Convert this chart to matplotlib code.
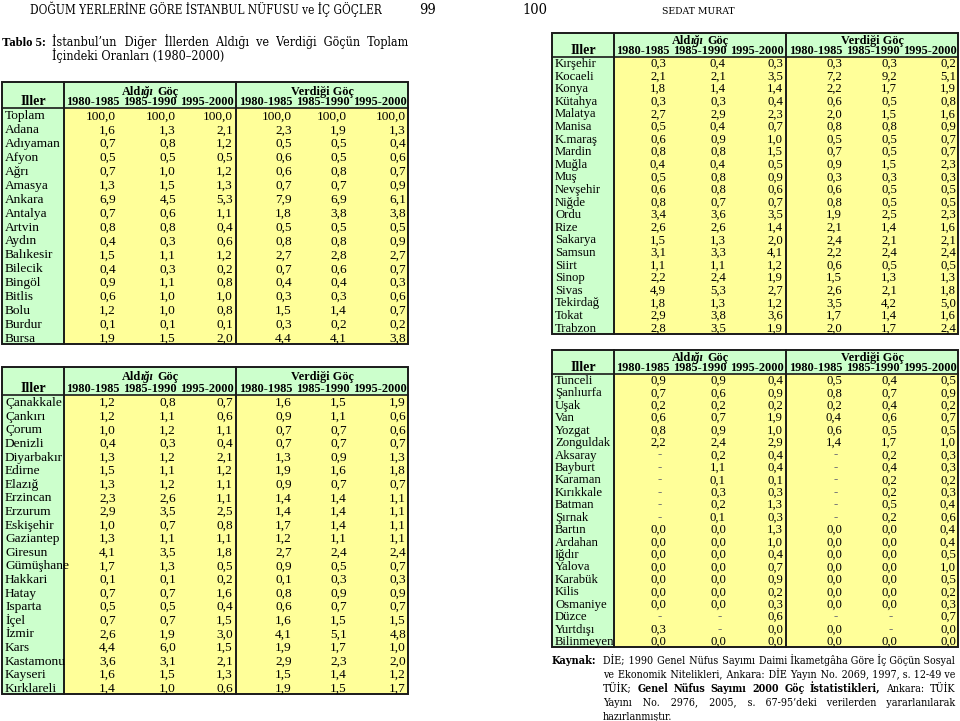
import matplotlib
matplotlib.use('Agg')
import matplotlib.pyplot as plt
from matplotlib import font_manager, ft2font
from matplotlib.patches import Rectangle

SERIF = 'Liberation Serif'
BOOK = 'DejaVu Serif'
GREEN = '#ccffcc'
YELLOW = '#ffff99'
LINE = '#1a1a1a'

periods = ['1980-1985', '1985-1990', '1995-2000']
groups = ['Aldığı Göç', 'Verdiği Göç']

# values: Aldığı Göç (3 periods), Verdiği Göç (3 periods); None = '-'
names_1 = ['Toplam', 'Adana', 'Adıyaman', 'Afyon', 'Ağrı', 'Amasya', 'Ankara', 'Antalya',
           'Artvin', 'Aydın', 'Balıkesir', 'Bilecik', 'Bingöl', 'Bitlis', 'Bolu', 'Burdur', 'Bursa']
values_1 = [
    [100.0, 100.0, 100.0, 100.0, 100.0, 100.0],
    [1.6, 1.3, 2.1, 2.3, 1.9, 1.3],
    [0.7, 0.8, 1.2, 0.5, 0.5, 0.4],
    [0.5, 0.5, 0.5, 0.6, 0.5, 0.6],
    [0.7, 1.0, 1.2, 0.6, 0.8, 0.7],
    [1.3, 1.5, 1.3, 0.7, 0.7, 0.9],
    [6.9, 4.5, 5.3, 7.9, 6.9, 6.1],
    [0.7, 0.6, 1.1, 1.8, 3.8, 3.8],
    [0.8, 0.8, 0.4, 0.5, 0.5, 0.5],
    [0.4, 0.3, 0.6, 0.8, 0.8, 0.9],
    [1.5, 1.1, 1.2, 2.7, 2.8, 2.7],
    [0.4, 0.3, 0.2, 0.7, 0.6, 0.7],
    [0.9, 1.1, 0.8, 0.4, 0.4, 0.3],
    [0.6, 1.0, 1.0, 0.3, 0.3, 0.6],
    [1.2, 1.0, 0.8, 1.5, 1.4, 0.7],
    [0.1, 0.1, 0.1, 0.3, 0.2, 0.2],
    [1.9, 1.5, 2.0, 4.4, 4.1, 3.8],
]

names_2 = ['Çanakkale', 'Çankırı', 'Çorum', 'Denizli', 'Diyarbakır', 'Edirne', 'Elazığ',
           'Erzincan', 'Erzurum', 'Eskişehir', 'Gaziantep', 'Giresun', 'Gümüşhane', 'Hakkari',
           'Hatay', 'Isparta', 'İçel', 'İzmir', 'Kars', 'Kastamonu', 'Kayseri', 'Kırklareli']
values_2 = [
    [1.2, 0.8, 0.7, 1.6, 1.5, 1.9],
    [1.2, 1.1, 0.6, 0.9, 1.1, 0.6],
    [1.0, 1.2, 1.1, 0.7, 0.7, 0.6],
    [0.4, 0.3, 0.4, 0.7, 0.7, 0.7],
    [1.3, 1.2, 2.1, 1.3, 0.9, 1.3],
    [1.5, 1.1, 1.2, 1.9, 1.6, 1.8],
    [1.3, 1.2, 1.1, 0.9, 0.7, 0.7],
    [2.3, 2.6, 1.1, 1.4, 1.4, 1.1],
    [2.9, 3.5, 2.5, 1.4, 1.4, 1.1],
    [1.0, 0.7, 0.8, 1.7, 1.4, 1.1],
    [1.3, 1.1, 1.1, 1.2, 1.1, 1.1],
    [4.1, 3.5, 1.8, 2.7, 2.4, 2.4],
    [1.7, 1.3, 0.5, 0.9, 0.5, 0.7],
    [0.1, 0.1, 0.2, 0.1, 0.3, 0.3],
    [0.7, 0.7, 1.6, 0.8, 0.9, 0.9],
    [0.5, 0.5, 0.4, 0.6, 0.7, 0.7],
    [0.7, 0.7, 1.5, 1.6, 1.5, 1.5],
    [2.6, 1.9, 3.0, 4.1, 5.1, 4.8],
    [4.4, 6.0, 1.5, 1.9, 1.7, 1.0],
    [3.6, 3.1, 2.1, 2.9, 2.3, 2.0],
    [1.6, 1.5, 1.3, 1.5, 1.4, 1.2],
    [1.4, 1.0, 0.6, 1.9, 1.5, 1.7],
]

names_3 = ['Kırşehir', 'Kocaeli', 'Konya', 'Kütahya', 'Malatya', 'Manisa', 'K.maraş', 'Mardin',
           'Muğla', 'Muş', 'Nevşehir', 'Niğde', 'Ordu', 'Rize', 'Sakarya', 'Samsun', 'Siirt',
           'Sinop', 'Sivas', 'Tekirdağ', 'Tokat', 'Trabzon']
values_3 = [
    [0.3, 0.4, 0.3, 0.3, 0.3, 0.2],
    [2.1, 2.1, 3.5, 7.2, 9.2, 5.1],
    [1.8, 1.4, 1.4, 2.2, 1.7, 1.9],
    [0.3, 0.3, 0.4, 0.6, 0.5, 0.8],
    [2.7, 2.9, 2.3, 2.0, 1.5, 1.6],
    [0.5, 0.4, 0.7, 0.8, 0.8, 0.9],
    [0.6, 0.9, 1.0, 0.5, 0.5, 0.7],
    [0.8, 0.8, 1.5, 0.7, 0.5, 0.7],
    [0.4, 0.4, 0.5, 0.9, 1.5, 2.3],
    [0.5, 0.8, 0.9, 0.3, 0.3, 0.3],
    [0.6, 0.8, 0.6, 0.6, 0.5, 0.5],
    [0.8, 0.7, 0.7, 0.8, 0.5, 0.5],
    [3.4, 3.6, 3.5, 1.9, 2.5, 2.3],
    [2.6, 2.6, 1.4, 2.1, 1.4, 1.6],
    [1.5, 1.3, 2.0, 2.4, 2.1, 2.1],
    [3.1, 3.3, 4.1, 2.2, 2.4, 2.4],
    [1.1, 1.1, 1.2, 0.6, 0.5, 0.5],
    [2.2, 2.4, 1.9, 1.5, 1.3, 1.3],
    [4.9, 5.3, 2.7, 2.6, 2.1, 1.8],
    [1.8, 1.3, 1.2, 3.5, 4.2, 5.0],
    [2.9, 3.8, 3.6, 1.7, 1.4, 1.6],
    [2.8, 3.5, 1.9, 2.0, 1.7, 2.4],
]

names_4 = ['Tunceli', 'Şanlıurfa', 'Uşak', 'Van', 'Yozgat', 'Zonguldak', 'Aksaray', 'Bayburt',
           'Karaman', 'Kırıkkale', 'Batman', 'Şırnak', 'Bartın', 'Ardahan', 'Iğdır', 'Yalova',
           'Karabük', 'Kilis', 'Osmaniye', 'Düzce', 'Yurtdışı', 'Bilinmeyen']
values_4 = [
    [0.9, 0.9, 0.4, 0.5, 0.4, 0.5],
    [0.7, 0.6, 0.9, 0.8, 0.7, 0.9],
    [0.2, 0.2, 0.2, 0.2, 0.4, 0.2],
    [0.6, 0.7, 1.9, 0.4, 0.6, 0.7],
    [0.8, 0.9, 1.0, 0.6, 0.5, 0.5],
    [2.2, 2.4, 2.9, 1.4, 1.7, 1.0],
    [None, 0.2, 0.4, None, 0.2, 0.3],
    [None, 1.1, 0.4, None, 0.4, 0.3],
    [None, 0.1, 0.1, None, 0.2, 0.2],
    [None, 0.3, 0.3, None, 0.2, 0.3],
    [None, 0.2, 1.3, None, 0.5, 0.4],
    [None, 0.1, 0.3, None, 0.2, 0.6],
    [0.0, 0.0, 1.3, 0.0, 0.0, 0.4],
    [0.0, 0.0, 1.0, 0.0, 0.0, 0.4],
    [0.0, 0.0, 0.4, 0.0, 0.0, 0.5],
    [0.0, 0.0, 0.7, 0.0, 0.0, 1.0],
    [0.0, 0.0, 0.9, 0.0, 0.0, 0.5],
    [0.0, 0.0, 0.2, 0.0, 0.0, 0.2],
    [0.0, 0.0, 0.3, 0.0, 0.0, 0.3],
    [None, None, 0.6, None, None, 0.7],
    [0.3, None, 0.0, 0.0, None, 0.0],
    [0.0, 0.0, 0.0, 0.0, 0.0, 0.0],
]

page_left = 'DOĞUM YERLERİNE GÖRE İSTANBUL NÜFUSU ve İÇ GÖÇLER'
page_right = 'SEDAT MURAT'
title_1 = 'İstanbul’un Diğer İllerden Aldığı ve Verdiği Göçün Toplam'
title_2 = 'İçindeki Oranları (1980–2000)'
source_lines = [
    [('DİE;', 0), ('1990', 0), ('Genel', 0), ('Nüfus', 0), ('Sayımı', 0), ('Daimi', 0),
     ('İkametgâha', 0), ('Göre', 0), ('İç', 0), ('Göçün', 0), ('Sosyal', 0)],
    [('ve', 0), ('Ekonomik', 0), ('Nitelikleri,', 0), ('Ankara:', 0), ('DİE', 0), ('Yayın', 0),
     ('No.', 0), ('2069,', 0), ('1997,', 0), ('s.', 0), ('12-49', 0), ('ve', 0)],
    [('TÜİK;', 0), ('Genel', 1), ('Nüfus', 1), ('Sayımı', 1), ('2000', 1), ('Göç', 1),
     ('İstatistikleri,', 1), ('Ankara:', 0), ('TÜİK', 0)],
    [('Yayını', 0), ('No.', 0), ('2976,', 0), ('2005,', 0), ('s.', 0), ('67-95’deki', 0),
     ('verilerden', 0), ('yararlanılarak', 0)],
    [('hazırlanmıştır.', 0)],
]

_fp = font_manager.FontProperties(family=BOOK, stretch='condensed')
HAIR = '\u200a' if ft2font.FT2Font(font_manager.findfont(_fp)).get_char_index(0x200a) else None


def fmt(v):
    return '-' if v is None else f'{v:.1f}'.replace('.', ',')


def width_of(t):
    return t.get_window_extent(renderer).width


def fit(t, target):
    t.set_fontsize(t.get_fontsize() * target / width_of(t))


def book(x, y, s, size=9, **kw):
    return ax.text(x, y, s, family=BOOK, fontstretch='condensed', fontsize=size,
                   va='baseline', **kw)


def justify(words, x0, x1, y, size, stretch=True):
    plain = all(not b for _, b in words)
    if stretch and plain and HAIR and len(words) > 1:
        # one text per line, widened with hair spaces, keeps a steady baseline
        t = book(x0, y, ' '.join(w for w, _ in words), size)
        a = book(0, 0, 'a' + HAIR * 10 + 'a', size)
        b = book(0, 0, 'aa', size)
        hair = (width_of(a) - width_of(b)) / 10
        a.remove()
        b.remove()
        total = max(0, int(round((x1 - x0 - width_of(t)) / hair)))
        ng = len(words) - 1
        s = words[0][0]
        for i, (w, _) in enumerate(words[1:]):
            s += ' ' + HAIR * (total // ng + (1 if i < total % ng else 0)) + w
        t.set_text(s)
        return
    items = [book(0, y, w, size, weight='bold' if b else 'normal') for w, b in words]
    widths = [width_of(t) for t in items]
    if stretch and len(items) > 1:
        gap = (x1 - x0 - sum(widths)) / (len(items) - 1)
    else:
        gap = size * 100 / 72 * 0.3
    x = x0
    for t, w in zip(items, widths):
        t.set_x(x)
        x += w + gap


def draw_table(ax, names, rows, x0, top, head_h, row_h, size=9.2):
    width, name_w, mid = 406, 62, 234
    year_x = [91, 148, 205, 264, 321, 378]
    val_x = [114, 174, 231, 290, 345, 404]
    n = len(names)
    body = top + head_h
    bottom = body + n * row_h
    ax.add_patch(Rectangle((x0, top), width, head_h, fc=GREEN, ec='none'))
    ax.add_patch(Rectangle((x0, body), name_w, n * row_h, fc=GREEN, ec='none'))
    ax.add_patch(Rectangle((x0 + name_w, body), width - name_w, n * row_h, fc=YELLOW, ec='none'))
    ax.add_patch(Rectangle((x0, top), width, bottom - top, fc='none', ec=LINE, lw=1.4))
    for xx in (name_w, mid):
        ax.plot([x0 + xx] * 2, [top, bottom], color=LINE, lw=1.4)
    ax.plot([x0, x0 + width], [body] * 2, color=LINE, lw=1.2)

    hs = 8.8
    off = hs * 100 / 72 * 0.33
    y1 = top + (6.5 if head_h < 25 else 8.5) + off
    y2 = body - 6.8 + off
    ax.text(x0 + name_w / 2, y2, 'Iller', ha='center', va='baseline',
            family=SERIF, weight='bold', fontsize=10)
    # "Aldığı" has its "ığı" set in italic in the source
    parts = [('Ald', 'normal'), ('ığı', 'italic'), ('Göç', 'normal')]
    texts = [ax.text(0, y1, s, family=SERIF, weight='bold', style=st, fontsize=hs, va='baseline')
             for s, st in parts]
    ws = [width_of(t) for t in texts]
    sp = hs * 100 / 72 * 0.25
    x = x0 + (name_w + mid) / 2 - (sum(ws) + sp) / 2
    for i, (t, w) in enumerate(zip(texts, ws)):
        t.set_x(x)
        x += w + (sp if i == 1 else 0)
    ax.text(x0 + (mid + width) / 2, y1, groups[1], ha='center', va='baseline',
            family=SERIF, weight='bold', fontsize=hs)
    for k in range(6):
        ax.text(x0 + year_x[k], y2, periods[k % 3], ha='center', va='baseline',
                family=SERIF, weight='bold', fontsize=hs)

    off = size * 100 / 72 * 0.33
    for i, (name, vals) in enumerate(zip(names, rows)):
        yb = body + (i + 0.5) * row_h + off
        ax.text(x0 + 3, yb, name, ha='left', va='baseline', family=SERIF, fontsize=size)
        for k, v in enumerate(vals):
            ax.text(x0 + val_x[k] - (4 if v is None else 0), yb, fmt(v), ha='right', va='baseline',
                    family=SERIF, fontsize=size, color='#777777' if v is None else 'black')


fig = plt.figure(figsize=(9.6, 7.21), dpi=100)
renderer = fig.canvas.get_renderer()
ax = fig.add_axes([0, 0, 1, 1])
ax.set_xlim(0, 960)
ax.set_ylim(721, 0)
ax.axis('off')

# running heads
fit(book(30, 14, page_left), 352)
book(428, 14.5, '99', 10.5, ha='center')
book(535, 14.5, '100', 10.5, ha='center')
fit(book(698, 14, page_right, ha='center'), 73)

# table caption
t = ax.text(2, 46, 'Tablo 5:', family=SERIF, fontsize=9, weight='bold', va='baseline')
fit(t, 44)
t = book(52, 60, title_2)
fit(t, 172)
justify([(w, 0) for w in title_1.split()], 52, 408, 46, t.get_fontsize())

draw_table(ax, names_1, values_1, 2, 82, 26, 13.9, size=9.6)
draw_table(ax, names_2, values_2, 2, 367, 28, 13.6, size=9.6)
draw_table(ax, names_3, values_3, 552, 33, 23.5, 12.6)
draw_table(ax, names_4, values_4, 552, 350, 23.5, 12.43)

# source note
t = book(603, 0, ' '.join(w for w, _ in source_lines[0]), 8)
fit(t, 348)
ssize = t.get_fontsize()
t.remove()
fit(book(552, 664, 'Kaynak:', ssize, weight='bold'), 44)
for i, words in enumerate(source_lines):
    justify(words, 603, 955, 664 + i * 14, ssize, stretch=i < 4)

fig.savefig('out.png', dpi=100)
